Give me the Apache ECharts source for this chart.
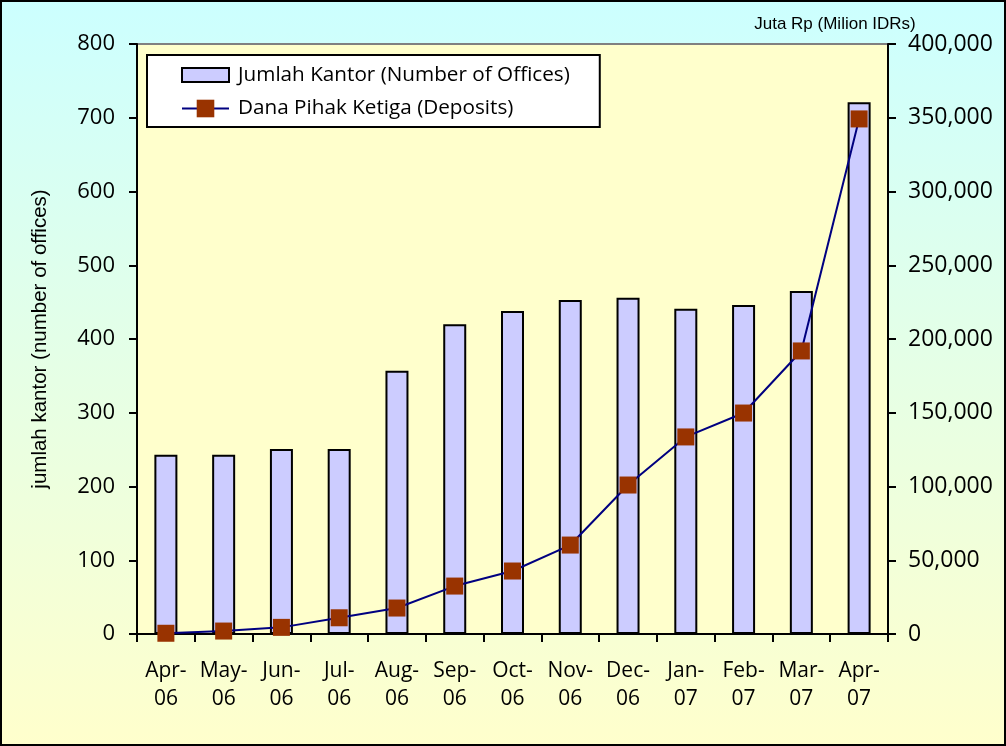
<!DOCTYPE html>
<html>
<head>
<meta charset="utf-8">
<script src="https://cdn.jsdelivr.net/npm/echarts@6/dist/echarts.min.js"></script>
<style>
  html, body { margin: 0; padding: 0; }
  #main { width: 1006px; height: 746px; background: linear-gradient(to bottom, #CCFFFF 0%, #FFFFCC 100%); }
</style>
</head>
<body>
<div id="main"></div>
<script>
// bulan (kategori)
var months = ['Apr-06', 'May-06', 'Jun-06', 'Jul-06', 'Aug-06', 'Sep-06', 'Oct-06',
              'Nov-06', 'Dec-06', 'Jan-07', 'Feb-07', 'Mar-07', 'Apr-07'];
// jumlah kantor
var offices = [243, 243, 251, 251, 357, 420, 438, 453, 456, 441, 446, 465, 721];
// dana pihak ketiga (juta Rp)
var deposits = [500, 2000, 4500, 11000, 17600, 32500, 42700, 60300, 101000, 133600, 149800, 191900, 349200];

var FONT = '"Open Sans", sans-serif';
var FONT2 = '"Liberation Sans", Arial, sans-serif';

var myChart = echarts.init(document.getElementById('main'));

var option = {
    backgroundColor: 'transparent',
    animation: false,
    grid: {
        left: 137, right: 118, top: 44, bottom: 112,
        show: true,
        backgroundColor: '#FFFFCC',
        borderColor: '#808080',
        borderWidth: 2
    },
    legend: {
        left: 147, top: 55,
        orient: 'vertical',
        backgroundColor: '#FFFFFF',
        borderColor: '#000000',
        borderWidth: 2,
        borderRadius: 0,
        padding: [8, 30, 8, 34],
        itemGap: 11,
        itemWidth: 47,
        itemHeight: 22,
        textStyle: { fontFamily: FONT, fontSize: 20.7, color: '#000', padding: [0, 0, 0, 4] },
        data: [
            // kotak bar dibuat setinggi 14px di dalam slot 22px
            { name: 'Jumlah Kantor (Number of Offices)', icon: 'path://M0,0 M47,22 M0,4 L47,4 L47,18 L0,18 Z' },
            { name: 'Dana Pihak Ketiga (Deposits)' }
        ]
    },
    xAxis: {
        type: 'category',
        data: months,
        axisLine: { lineStyle: { color: '#000', width: 2 } },
        axisTick: { show: true, length: 8, lineStyle: { color: '#000', width: 2 } },
        axisLabel: {
            interval: 0,
            fontFamily: FONT, fontSize: 21, color: '#000', lineHeight: 28, margin: 23,
            formatter: function (v) {
                var p = v.split('-');
                return p[0] + '-\n' + p[1];
            }
        }
    },
    yAxis: [
        {
            type: 'value',
            min: 0, max: 800, interval: 100,
            name: 'jumlah kantor (number of offices)',
            nameLocation: 'middle',
            nameGap: 86,
            nameRotate: 90,
            nameTextStyle: { fontFamily: FONT2, fontSize: 20.5, color: '#000' },
            splitLine: { show: false },
            axisLine: { show: true, lineStyle: { color: '#000', width: 2 } },
            axisTick: { show: true, length: 8, lineStyle: { color: '#000', width: 2 } },
            axisLabel: { fontFamily: FONT, fontSize: 22, color: '#000', margin: 22 }
        },
        {
            type: 'value',
            min: 0, max: 400000, interval: 50000,
            position: 'right',
            name: 'Juta Rp (Milion IDRs)',
            nameLocation: 'end',
            nameGap: 7,
            nameTextStyle: { fontFamily: FONT2, fontSize: 17, color: '#000',
                             align: 'center', padding: [0, 106, 0, 0] },
            splitLine: { show: false },
            axisLine: { show: true, lineStyle: { color: '#000', width: 2 } },
            axisTick: { show: true, length: 8, lineStyle: { color: '#000', width: 2 } },
            axisLabel: {
                fontFamily: FONT, fontSize: 23, color: '#000', margin: 20,
                formatter: function (v) { return v.toLocaleString('en-US'); }
            }
        }
    ],
    series: [
        {
            name: 'Jumlah Kantor (Number of Offices)',
            type: 'bar',
            yAxisIndex: 0,
            barWidth: 23,
            data: offices,
            itemStyle: { color: '#CCCCFF', borderColor: '#000', borderWidth: 2 }
        },
        {
            name: 'Dana Pihak Ketiga (Deposits)',
            type: 'line',
            yAxisIndex: 1,
            data: deposits,
            symbol: 'rect',
            symbolSize: 17,
            itemStyle: { color: '#993300' },
            lineStyle: { color: '#000080', width: 2 },
            z: 5
        }
    ],
    graphic: [
        {
            type: 'rect',
            shape: { x: 1, y: 1, width: 1004, height: 744 },
            style: { fill: null, stroke: '#000', lineWidth: 2 },
            silent: true
        }
    ]
};

myChart.setOption(option);
</script>
</body>
</html>
